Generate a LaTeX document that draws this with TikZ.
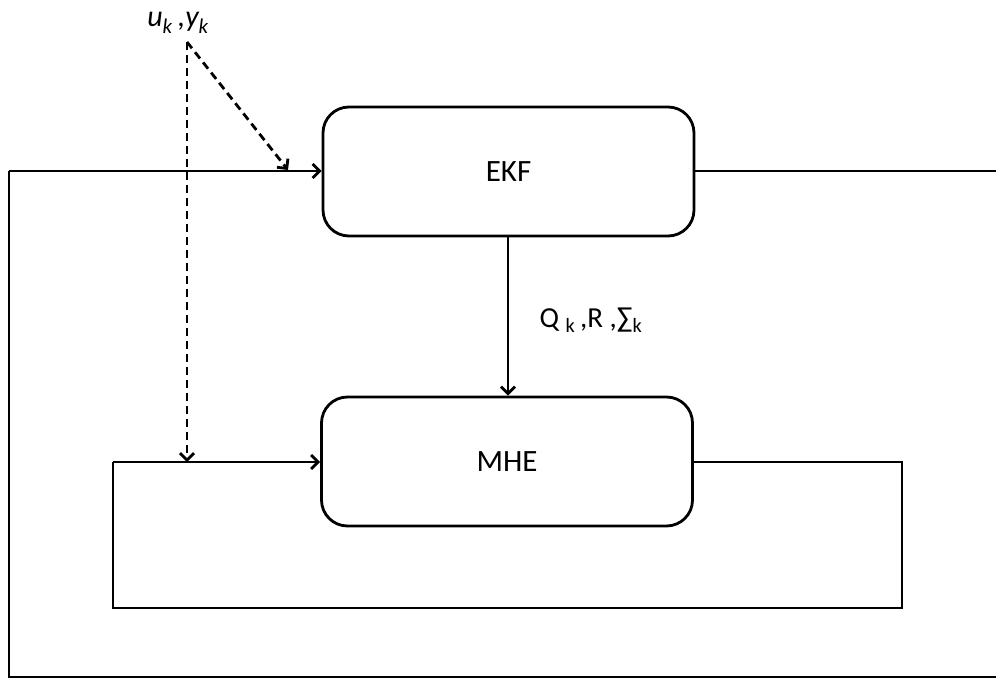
\documentclass[tikz,border=0pt]{standalone}
\usepackage{fontspec}
\setmainfont{Carlito}
\usetikzlibrary{arrows.meta}
\tikzset{
  blk/.style={draw, line width=2.8pt, rounded corners=26pt, minimum width=371pt, minimum height=129pt, inner sep=0pt, font=\fontsize{31}{36}\selectfont},
  wire/.style={line width=2.8pt},
  arr/.style={wire, -{Straight Barb[length=7pt,width=14pt,line width=2.8pt]}},
  darr/.style={arr, dash pattern=on 8pt off 5pt},
}
\begin{document}
\begin{tikzpicture}[x=1pt,y=-1pt]
\useasboundingbox (0,0) rectangle (996,679);
\node[blk] (ekf) at (508.5,171.5) {EKF};
\node[blk] (mhe) at (507,461.5) {MHE};
\node[font=\fontsize{30}{34}\selectfont\itshape, inner sep=0pt, anchor=base] (uy) at (178,27) {u\textsubscript{k}\,,y\textsubscript{k}};
\node[font=\fontsize{29}{34}\selectfont, anchor=west] (q) at (536,320) {Q \textsubscript{k}\,,R ,∑\textsubscript{k}};
% EKF to MHE
\draw[arr] (ekf.south -| 508,0) -- (mhe.north -| 508,0);
% outer loop
\coordinate (o1) at (998,171);
\coordinate (o2) at (998,677);
\coordinate (o3) at (9,677);
\coordinate (o4) at (9,171);
\draw[wire] (ekf.east |- o1) -- (o1) -- (o2) -- (o3) -- (o4);
\draw[arr] (o4) -- (ekf.west |- o4);
% inner loop
\coordinate (i1) at (902,462);
\coordinate (i2) at (902,608);
\coordinate (i3) at (113,608);
\coordinate (i4) at (113,462);
\draw[wire] (mhe.east |- i1) -- (i1) -- (i2) -- (i3) -- (i4);
\draw[arr] (i4) -- (mhe.west |- i4);
% dashed inputs
\coordinate (d0) at (187,42);
\coordinate (d1) at (187,462);
\coordinate (d2) at (288,170);
\draw[darr] (d0) -- (d1);
\draw[darr] (d0) -- (d2);
\end{tikzpicture}
\end{document}
